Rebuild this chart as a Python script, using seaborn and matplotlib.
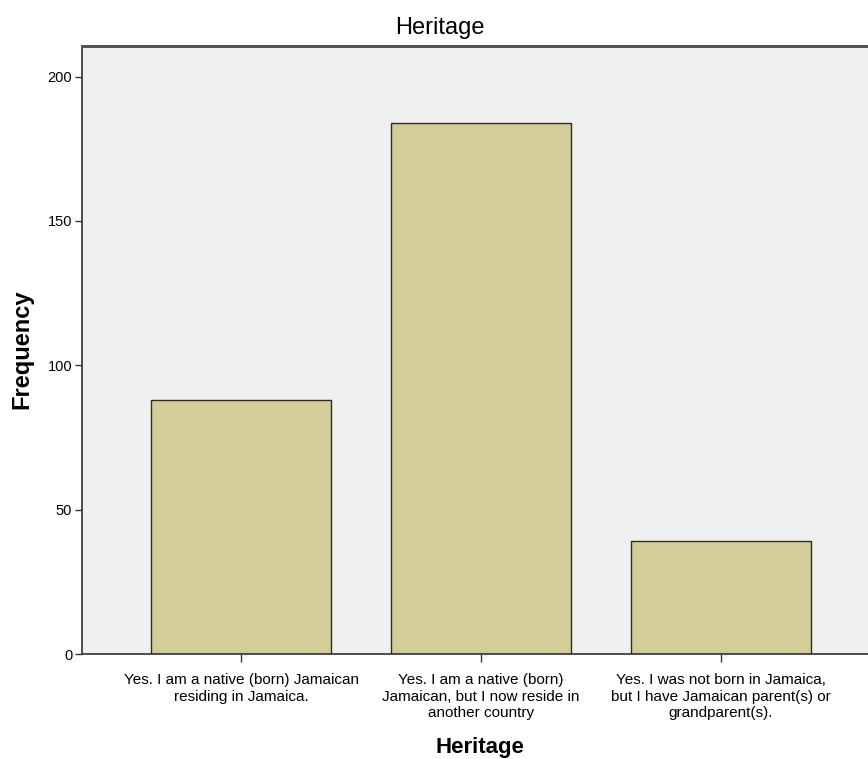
import pandas as pd
import matplotlib
matplotlib.use("Agg")
import matplotlib.pyplot as plt
import seaborn as sns

# data
categories = [
    "Yes. I am a native (born) Jamaican\nresiding in Jamaica.",
    "Yes. I am a native (born)\nJamaican, but I now reside in\nanother country",
    "Yes. I was not born in Jamaica,\nbut I have Jamaican parent(s) or\ngrandparent(s).",
]
frequency = [88, 184, 39]
yticks = [0, 50, 100, 150, 200]

df = pd.DataFrame({"Heritage": categories, "Frequency": frequency})

sns.set_style("white")
plt.rcParams["font.family"] = ["Liberation Sans", "DejaVu Sans"]
plt.rcParams["text.color"] = "black"
plt.rcParams["xtick.color"] = "black"
plt.rcParams["ytick.color"] = "black"

W, H = 868, 759
fig = plt.figure(figsize=(W / 100, H / 100), dpi=100)
# axes runs past the right edge, like the cropped original
ax = fig.add_axes([82 / W, 1 - 654 / H, (880 - 82) / W, (654 - 46) / H])

sns.barplot(data=df, x="Heritage", y="Frequency", color="#D3CE97",
            edgecolor="#2b2b2b", linewidth=1.0, width=0.75, saturation=1, ax=ax)

ax.set_facecolor("#F0F0F0")
ax.set_xlim(-0.6625, 2.6625)
ax.set_ylim(0, 210.6)
ax.set_yticks(yticks)
ax.tick_params(axis="y", direction="out", length=5, width=1, color="#333333",
               labelcolor="black", labelsize=10.5, pad=2, left=True)
ax.tick_params(axis="x", direction="out", length=6, width=1, color="#333333",
               labelcolor="black", labelsize=11, pad=8, bottom=True)
for lab in ax.get_xticklabels():
    lab.set_linespacing(1.22)
for side in ["left", "bottom"]:
    ax.spines[side].set_color("#333333")
    ax.spines[side].set_linewidth(1.2)
ax.spines["top"].set_color("#555555")
ax.spines["top"].set_linewidth(2.2)
ax.spines["right"].set_visible(False)

ax.set_xlabel("")
ax.set_ylabel("")
fig.text(440 / W, 1 - 28 / H, "Heritage", ha="center", va="center", fontsize=17)
fig.text(480 / W, 1 - 747 / H, "Heritage", ha="center", va="center",
         fontsize=16, fontweight="bold")
fig.text(22 / W, 1 - 349 / H, "Frequency", ha="center", va="center",
         rotation=90, fontsize=17, fontweight="bold")

fig.savefig("out.png", dpi=100, facecolor="white")
